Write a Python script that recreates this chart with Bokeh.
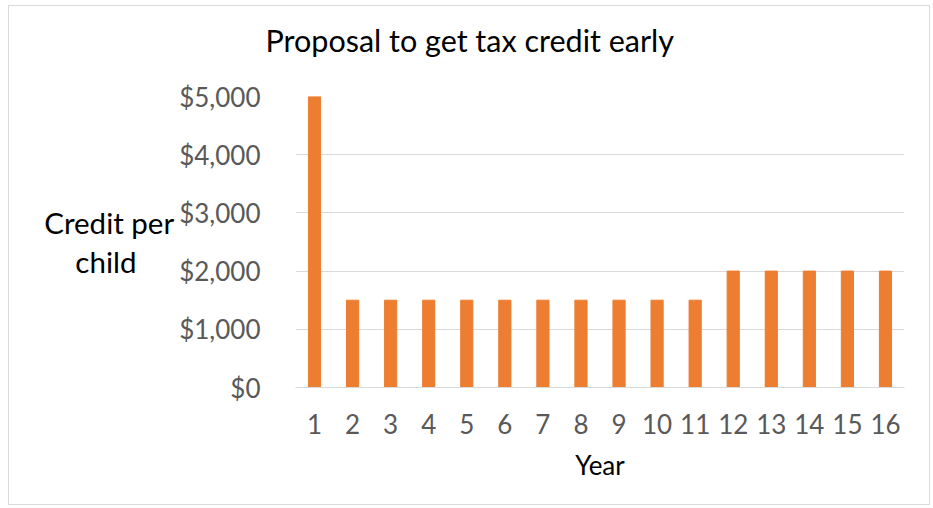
from bokeh.plotting import figure
from bokeh.models import Range1d, NumeralTickFormatter, FixedTicker, Title
from bokeh.embed import file_html
from bokeh.resources import INLINE

years = list(range(1, 17))
credit = [5000, 1500, 1500, 1500, 1500, 1500, 1500, 1500, 1500, 1500, 1500,
          2000, 2000, 2000, 2000, 2000]
y_ticks = [0, 1000, 2000, 3000, 4000, 5000]
title_text = "Proposal to get tax credit early"
y_title = ["Credit per", "child"]
x_title = "Year"

FONT = "Lato"

p = figure(width=922, height=500, output_backend="svg", toolbar_location=None,
           x_range=Range1d(0.5, 16.5), y_range=Range1d(0, 5000),
           min_border_left=286, min_border_right=27, min_border_top=90,
           min_border_bottom=119)
p.styles = {"border": "1px solid #d9d9d9"}
p.margin = (5, 0, 0, 8)
p.outline_line_color = None
p.background_fill_color = "white"
p.border_fill_color = "white"

p.title.text = ""
# thin invisible spacer placed next to the frame, then the real title above it
p.add_layout(Title(text="\u00a0", text_font_size="1px", standoff=36), "above")
p.add_layout(Title(text=title_text, text_font=FONT, text_font_size="30.5px",
                   text_font_style="normal", text_color="black", align="left",
                   offset=-30, standoff=0), "above")

p.vbar(x=years, top=credit, width=0.32, color="#ED7D31")

p.xgrid.grid_line_color = None
p.ygrid.grid_line_color = "#d9d9d9"
p.ygrid.grid_line_width = 1

p.yaxis.ticker = FixedTicker(ticks=y_ticks)
p.yaxis.formatter = NumeralTickFormatter(format="$0,0")
p.yaxis.axis_line_color = None
p.yaxis.major_tick_line_color = None
p.yaxis.minor_tick_line_color = None
p.yaxis.major_label_standoff = 29
p.yaxis.major_label_text_font = FONT
p.yaxis.major_label_text_font_size = "26px"
p.yaxis.major_label_text_color = "#595959"
# second line padded so that it sits centred under the first
p.yaxis.axis_label = y_title[0] + "\n" + y_title[1] + "\u00a0" * 5
p.yaxis.axis_label_orientation = "horizontal"
p.yaxis.axis_label_standoff = 2
p.yaxis.axis_label_text_font = FONT
p.yaxis.axis_label_text_font_size = "29.5px"
p.yaxis.axis_label_text_font_style = "normal"
p.yaxis.axis_label_text_color = "black"
p.yaxis.axis_label_text_align = "center"
p.yaxis.axis_label_text_line_height = 1.13

p.xaxis.ticker = FixedTicker(ticks=years)
p.xaxis.axis_line_color = "#d9d9d9"
p.xaxis.major_tick_line_color = None
p.xaxis.minor_tick_line_color = None
p.xaxis.major_label_standoff = 20
p.xaxis.major_label_text_font = FONT
p.xaxis.major_label_text_font_size = "26px"
p.xaxis.major_label_text_color = "#595959"
p.xaxis.axis_label = x_title
p.xaxis.axis_label_text_font = FONT
p.xaxis.axis_label_text_font_size = "26px"
p.xaxis.axis_label_text_font_style = "normal"
p.xaxis.axis_label_text_color = "black"
p.xaxis.axis_label_standoff = 12

open("out.html", "w").write(file_html(p, INLINE))
